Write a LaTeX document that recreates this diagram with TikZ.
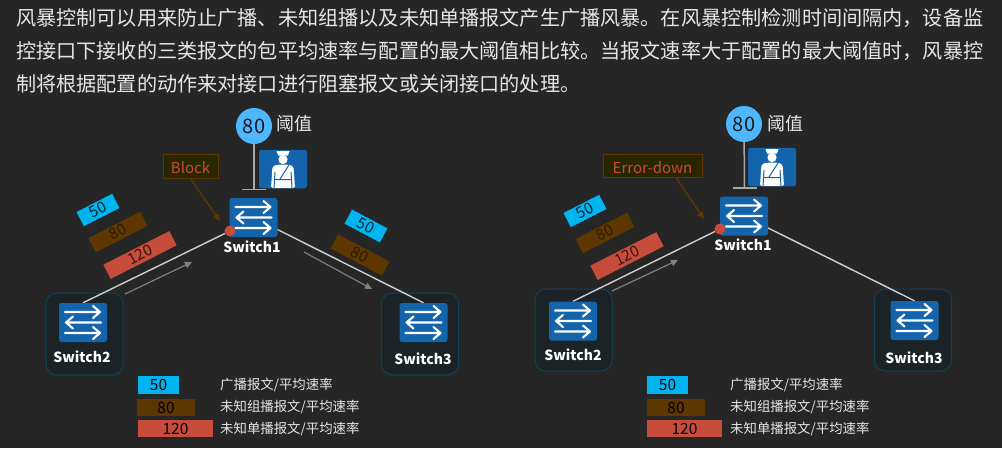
\documentclass[tikz,border=0pt]{standalone}
\usepackage{fontspec}
\setmainfont{Noto Sans CJK SC}
\usetikzlibrary{arrows.meta}
\pgfdeclarelayer{bgl}
\pgfdeclarelayer{links}
\pgfsetlayers{bgl,links,main}
\definecolor{pagebg}{HTML}{262626}
\definecolor{swblue}{HTML}{1464AC}
\definecolor{panelfill}{HTML}{1B2327}
\definecolor{panelline}{HTML}{0E4359}
\definecolor{tagcyan}{HTML}{00B4F0}
\definecolor{tagbrown}{HTML}{5E3700}
\definecolor{tagred}{HTML}{C84C3C}
\definecolor{thresh}{HTML}{4DB8FF}
\definecolor{bodytxt}{HTML}{E6E6E6}
\definecolor{linkgray}{HTML}{CFCFCF}
\definecolor{flowgray}{HTML}{808080}
\definecolor{stemgray}{HTML}{A8A8A8}
\definecolor{actfill}{HTML}{2A2600}
\definecolor{dotred}{HTML}{C84C3C}
\tikzset{
  fs/.style={font=\fontsize{#1}{#1}\selectfont},
  bodyline/.style={anchor=west,inner sep=0pt,text=bodytxt,fs=20.15},
  swbox/.style={fill=swblue,rounded corners=2.5pt,minimum width=48pt,minimum height=39pt,inner sep=0pt},
  guardbox/.style={fill=swblue,rounded corners=2.5pt,minimum width=48pt,minimum height=38.5pt,inner sep=0pt},
  panel/.style={draw=panelline,fill=panelfill,line width=1pt,rounded corners=11pt,minimum width=77pt,minimum height=82pt,inner sep=0pt},
  swlabel/.style={text=white,inner sep=0pt,font=\fontsize{14}{14}\selectfont\bfseries},
  tag/.style={inner sep=0pt,minimum height=16pt,fs=15.5},
  tagc/.style={tag,fill=tagcyan,minimum width=40pt,text=black!80!tagcyan},
  tagb/.style={tag,fill=tagbrown,minimum width=58pt,text=black!50!tagbrown},
  tagr/.style={tag,fill=tagred,minimum width=74pt,text=black!72!tagred},
  legc/.style={fill=tagcyan,inner sep=0pt,minimum width=41pt,minimum height=17.5pt},
  legb/.style={fill=tagbrown,inner sep=0pt,minimum width=58pt,minimum height=17.5pt},
  legr/.style={fill=tagred,inner sep=0pt,minimum width=75pt,minimum height=17.5pt},
  legnum/.style={inner sep=0pt,fs=15.5,text=black},
  legtxt/.style={anchor=west,inner sep=0pt,text=bodytxt,fs=13.4},
  link/.style={draw=linkgray,line width=1.4pt},
  flow/.style={draw=flowgray,line width=1.2pt,-{Triangle[length=7pt,width=6.5pt]}},
  stem/.style={draw=stemgray,line width=1.5pt},
  threshc/.style={circle,fill=thresh,minimum size=36pt,inner sep=0pt,fs=20,text=black!90},
  threshl/.style={inner sep=0pt,text=bodytxt,fs=18},
  actbox/.style={draw=tagbrown,fill=actfill,line width=1pt,inner sep=0pt,minimum height=23.5pt,text height=14pt,text depth=0pt,text=tagred,fs=15},
  actarrow/.style={draw=tagbrown,line width=1.4pt,-{Triangle[length=7pt,width=6pt]}},
  reddot/.style={circle,fill=dotred,minimum size=11pt,inner sep=0pt},
  swarrows/.pic={
    \draw[white,line width=2.1pt,line cap=round,line join=round]
      (-18,-10.5) -- (17,-10.5) (10,-16.5) -- (17,-10.5) -- (10,-4.5)
      (18,0) -- (-17,0) (-10,-6) -- (-17,0) -- (-10,6)
      (-18,10.5) -- (17,10.5) (10,4.5) -- (17,10.5) -- (10,16.5);
  },
  guardfig/.pic={
    \fill[white] (-6.5,-18) -- (6.5,-18) -- (5,-13.5) -- (-5,-13.5) -- cycle;
    \fill[white] (0,-9.5) ellipse (4.6 and 4.6);
    \fill[white,rounded corners=2pt] (-4,-4.5) -- (4,-4.5) -- (10.5,-3) -- (12,19) -- (-12,19) -- (-10.5,-3) -- cycle;
    \draw[swblue,line width=1pt] (6,-4) -- (-3,10) (-8,10.5) -- (9,10.5) (-8,3) -- (-9,19) (8,3) -- (9,19);
  }
}
\begin{document}
\begin{tikzpicture}[x=1pt,y=-1pt]
\useasboundingbox (0,0) rectangle (1002,448);
\begin{pgfonlayer}{bgl}
\fill[pagebg] (0,0) rectangle (1002,448);
\node[panel] (p2) at (84.5,334) {};
\node[panel] (p3) at (420,334) {};
\node[panel] (q2) at (573.5,330) {};
\node[panel] (q3) at (913,330) {};
\end{pgfonlayer}

\node[bodyline] (t1) at (16,18) {风暴控制可以用来防止广播、未知组播以及未知单播报文产生广播风暴。在风暴控制检测时间间隔内，设备监};
\node[bodyline] (t2) at (16,51) {控接口下接收的三类报文的包平均速率与配置的最大阈值相比较。当报文速率大于配置的最大阈值时，风暴控};
\node[bodyline] (t3) at (16,84) {制将根据配置的动作来对接口进行阻塞报文或关闭接口的处理。};

% left diagram
\node[swbox] (s1) at (253.5,217.5) {}; \pic at (s1) {swarrows};
\node[swbox] (s2) at (83,322.5) {}; \pic at (s2) {swarrows};
\node[swbox] (s3) at (423.5,322.5) {}; \pic at (s3) {swarrows};
\node[swlabel] (s1l) at (252,247) {Switch1};
\node[swlabel] (s2l) at (82,357) {Switch2};
\node[swlabel] (s3l) at (423,359) {Switch3};
\node[reddot] (d1) at (230,231) {};
\node[threshc] (c1) at (254,126) {80};
\node[threshl] (c1l) at (294,124) {阈值};
\node[guardbox] (g1) at (283,169) {}; \pic at (g1) {guardfig};
\coordinate (f1) at (254,189.5);
\draw[stem] (c1) -- (f1);
\draw[stem] ([xshift=-12pt]f1) -- ([xshift=12pt]f1);
\node[actbox,minimum width=55pt] (b1) at (190.5,166.5) {Block};
\coordinate (b1t) at (220,221);
\draw[actarrow] (b1.south) -- (b1t);
\node[tagc,rotate=27] (a50) at (98,210) {50};
\node[tagb,rotate=27] (a80) at (118,232) {80};
\node[tagr,rotate=27] (a120) at (140,255) {120};
\node[tagc,rotate=-28] (e50) at (366,226) {50};
\node[tagb,rotate=-28] (e80) at (360,255) {80};
\begin{pgfonlayer}{links}
\draw[link] (s2.north) -- (d1);
\draw[link] (s1.center) -- (s3.north);
\end{pgfonlayer}
\coordinate (fa1) at (125,294); \coordinate (fa2) at (192,262);
\draw[flow] (fa1) -- (fa2);
\coordinate (fb1) at (304,252); \coordinate (fb2) at (372,289);
\draw[flow] (fb1) -- (fb2);
\node[legc] (l1) at (158.5,385) {}; \node[legnum] at (l1) {50};
\node[legb] (l2) at (166,407.5) {}; \node[legnum] at (l2) {80};
\node[legr] (l3) at (175.5,428.5) {}; \node[legnum] at (l3) {120};
\node[legtxt] (lt1) at (220,385) {广播报文/平均速率};
\node[legtxt] (lt2) at (220,407) {未知组播报文/平均速率};
\node[legtxt] (lt3) at (220,429) {未知单播报文/平均速率};

% right diagram
\node[swbox] (r1) at (744,216) {}; \pic at (r1) {swarrows};
\node[swbox] (r2) at (573,321) {}; \pic at (r2) {swarrows};
\node[swbox] (r3) at (914.5,320.5) {}; \pic at (r3) {swarrows};
\node[swlabel] (r1l) at (743,245) {Switch1};
\node[swlabel] (r2l) at (573,355) {Switch2};
\node[swlabel] (r3l) at (914,358) {Switch3};
\node[reddot] (d2) at (720,229) {};
\node[threshc] (c2) at (744,124) {80};
\node[threshl] (c2l) at (785,124) {阈值};
\node[guardbox] (g2) at (772,167) {}; \pic at (g2) {guardfig};
\coordinate (f2) at (744.5,188);
\draw[stem] (c2) -- (f2);
\draw[stem] ([xshift=-12pt]f2) -- ([xshift=12pt]f2);
\node[actbox,minimum width=99pt] (b2) at (652.5,166) {Error-down};
\coordinate (b2t) at (704,219);
\draw[actarrow] ([xshift=24pt]b2.south) -- (b2t);
\node[tagc,rotate=27] (h50) at (585,211) {50};
\node[tagb,rotate=27] (h80) at (605,233) {80};
\node[tagr,rotate=27] (h120) at (627,256) {120};
\begin{pgfonlayer}{links}
\draw[link] (r2.north) -- (d2);
\draw[link] (r1.center) -- (r3.north);
\end{pgfonlayer}
\coordinate (fc1) at (612,291); \coordinate (fc2) at (678,260);
\draw[flow] (fc1) -- (fc2);
\node[legc] (m1) at (667.5,385) {}; \node[legnum] at (m1) {50};
\node[legb] (m2) at (676,407.5) {}; \node[legnum] at (m2) {80};
\node[legr] (m3) at (684.5,428.5) {}; \node[legnum] at (m3) {120};
\node[legtxt] (mt1) at (730,385) {广播报文/平均速率};
\node[legtxt] (mt2) at (730,407) {未知组播报文/平均速率};
\node[legtxt] (mt3) at (730,429) {未知单播报文/平均速率};
\end{tikzpicture}
\end{document}
